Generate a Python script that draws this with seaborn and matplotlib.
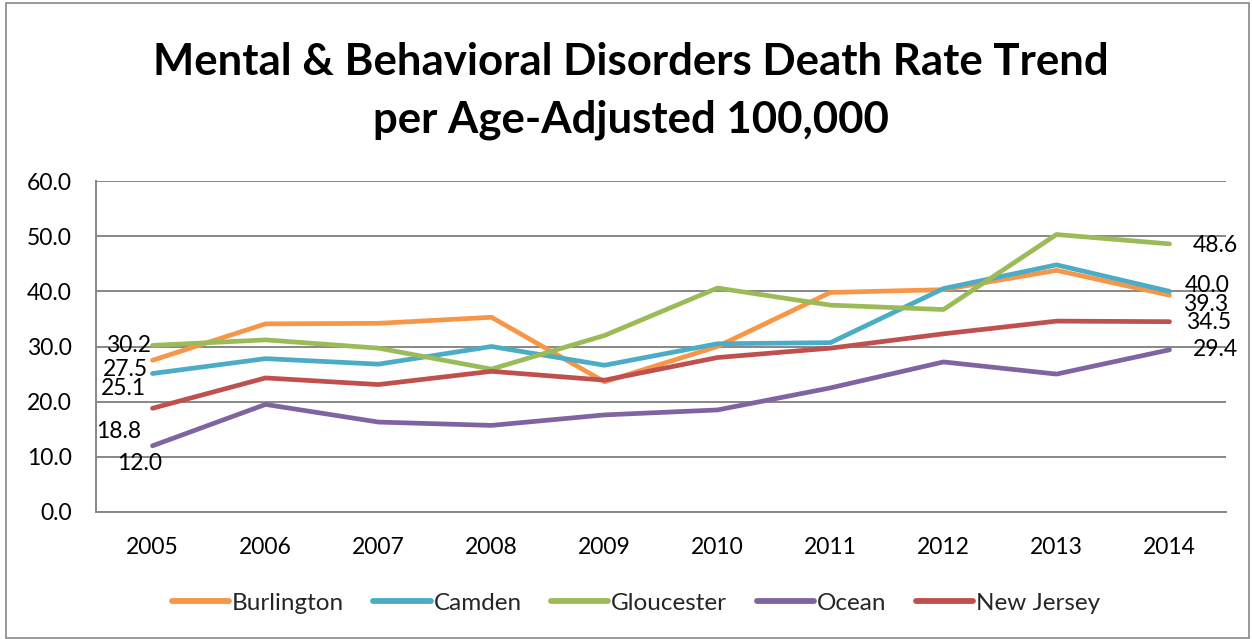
import matplotlib
matplotlib.use("Agg")
import matplotlib.pyplot as plt
import seaborn as sns
import pandas as pd
from matplotlib.patches import Rectangle
from matplotlib.ticker import FixedLocator, FormatStrFormatter

years = [2005, 2006, 2007, 2008, 2009, 2010, 2011, 2012, 2013, 2014]
burlington = [27.5, 34.1, 34.2, 35.3, 23.6, 30.0, 39.8, 40.3, 43.8, 39.3]
camden = [25.1, 27.8, 26.8, 30.0, 26.6, 30.5, 30.7, 40.5, 44.8, 40.0]
gloucester = [30.2, 31.2, 29.7, 25.9, 32.0, 40.6, 37.5, 36.7, 50.3, 48.6]
ocean = [12.0, 19.5, 16.3, 15.7, 17.6, 18.5, 22.5, 27.2, 25.0, 29.4]
new_jersey = [18.8, 24.3, 23.1, 25.5, 23.9, 28.0, 29.7, 32.3, 34.6, 34.5]
series_names = ["Burlington", "Camden", "Gloucester", "Ocean", "New Jersey"]
series_values = [burlington, camden, gloucester, ocean, new_jersey]
colors = ["#F79646", "#4BACC6", "#9BBB59", "#8064A2", "#C0504D"]
y_ticks = [0, 10, 20, 30, 40, 50, 60]
title = "Mental & Behavioral Disorders Death Rate Trend\nper Age-Adjusted 100,000"

rows = []
for name, vals in zip(series_names, series_values):
    for yr, v in zip(years, vals):
        rows.append({"Year": yr, "Rate": v, "Series": name})
df = pd.DataFrame(rows)

sns.set_theme(style="white")
plt.rcParams["font.family"] = ["Lato", "DejaVu Sans"]

fig = plt.figure(figsize=(12.52, 6.39), dpi=100)
ax = fig.add_axes([96 / 1252, 1 - 512 / 639, (1226 - 96) / 1252, (512 - 181) / 639])

sns.lineplot(data=df, x="Year", y="Rate", hue="Series", hue_order=series_names,
             palette=colors, linewidth=3.4, ax=ax, legend=True,
             solid_capstyle="round", solid_joinstyle="round")

grid_col = "#878787"
fs = 16.5
ax.set_xlim(years[0] - 0.5, years[-1] + 0.5)
ax.set_ylim(y_ticks[0], y_ticks[-1])
ax.set_yticks(y_ticks)
ax.yaxis.set_major_formatter(FormatStrFormatter("%.1f"))
ax.set_xticks(years)
ax.set_xticklabels([str(y) for y in years])
ax.xaxis.set_minor_locator(FixedLocator([y - 0.5 for y in years] + [years[-1] + 0.5]))
ax.tick_params(axis="x", which="major", length=0, pad=18, labelsize=fs, labelcolor="black")
ax.tick_params(axis="x", which="minor", length=5.5, width=1.3, color=grid_col, direction="out")
ax.tick_params(axis="y", which="major", length=6.5, width=1.3, color=grid_col, direction="out",
               pad=11, labelsize=fs, labelcolor="black")
ax.grid(axis="y", color=grid_col, linewidth=1.4)
ax.set_axisbelow(True)
for s in ["top", "right"]:
    ax.spines[s].set_visible(False)
for s in ["left", "bottom"]:
    ax.spines[s].set_color(grid_col)
    ax.spines[s].set_linewidth(1.4)
ax.set_xlabel("")
ax.set_ylabel("")

# data labels at first and last points (offsets in pixels)
first_offsets = {"Burlington": (-4, -9, "right"), "Camden": (-6, -15, "right"),
                 "Gloucester": (-1, 0, "right"), "Ocean": (-13, -18, "center"),
                 "New Jersey": (-11, -23, "right")}
last_offsets = {"Burlington": (14, -9), "Camden": (15, 6), "Gloucester": (23, -2),
                "Ocean": (23, 0), "New Jersey": (17, -1)}
for name, vals in zip(series_names, series_values):
    dx, dy, ha = first_offsets[name]
    ax.annotate(f"{vals[0]:.1f}", (years[0], vals[0]), xytext=(dx, dy),
                textcoords="offset pixels", ha=ha, va="center", fontsize=fs,
                color="black", annotation_clip=False)
    dx, dy = last_offsets[name]
    ax.annotate(f"{vals[-1]:.1f}", (years[-1], vals[-1]), xytext=(dx, dy),
                textcoords="offset pixels", ha="left", va="center", fontsize=fs,
                color="black", annotation_clip=False)

leg = ax.legend(loc="center", bbox_to_anchor=(0.508, (639 - 603) / 639), bbox_transform=fig.transFigure,
                ncol=5, frameon=False, fontsize=17.5, handlelength=2.35, handletextpad=0.12,
                columnspacing=1.22)
for line in leg.get_lines():
    line.set_linewidth(4.2)

fig.text(0.504, 1 - 91 / 639, title, ha="center", va="center", fontsize=31.5,
         fontweight="bold", linespacing=1.55, color="black")

fig.patches.append(Rectangle((6 / 1252, 1.5 / 639), (1249 - 6) / 1252, (636 - 1.5) / 639,
                             transform=fig.transFigure, fill=False,
                             edgecolor="#878787", linewidth=1.2))

fig.savefig("out.png", dpi=100)
